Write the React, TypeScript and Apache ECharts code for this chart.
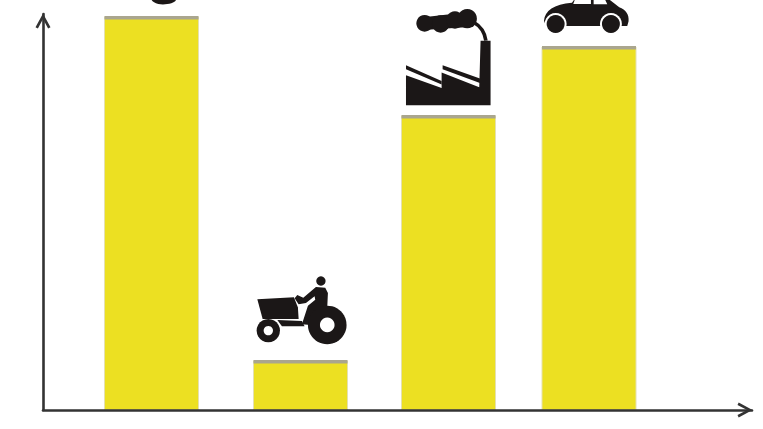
import React, { useEffect, useRef } from "react";
import * as echarts from "echarts";

// Bars are unevenly spaced, so each has a position on a numeric x scale.
const barPositions = [108.5, 257.5, 405.5, 546];
const barValues = [393, 49, 294, 363];
const iconNames = ["blob", "tractor", "factory", "car"];

const INK = "#1b1717";
const YELLOW = "#ece022";
const STRIP = "#aaa68e";
const AXIS = "#333333";
const CHEVRON = "path://M50 0 L100 92 L84 100 L50 36 L16 100 L0 92 Z";

const dot = (cx: number, cy: number, r: number, fill = INK) => ({
  type: "circle",
  shape: { cx, cy, r },
  style: { fill },
});
const shape = (pathData: string, fill = INK) => ({
  type: "path",
  shape: { pathData },
  style: { fill },
});

const icons: Record<string, { dx: number; dy: number; children: any[] }> = {
  blob: {
    dx: -61.5,
    dy: -17,
    children: [shape("M185 0 L258 0 C255 10 225 16 205 12 C195 10 188 5 185 0 Z")],
  },
  tractor: {
    dx: -60.5,
    dy: -96,
    children: [
      shape("M52 103 L162 97 L174 128 L176 162 L68 162 Z"),
      shape("M112 165 L186 168 L194 184 L126 184 Z"),
      shape(
        "M228 66 L256 68 L264 84 L262 128 L236 136 L212 180 L186 178 L204 122 L226 104 L224 94 L198 114 L176 118 L164 100 L172 90 L190 98 Z",
      ),
      dot(243, 48, 14),
      dot(262, 180, 58),
      dot(262, 180, 22, "#ffffff"),
      dot(85, 197, 35),
      dot(85, 197, 14, "#ffffff"),
    ],
  },
  factory: {
    dx: -58.5,
    dy: -116,
    children: [
      shape(
        "M272 122 L302 122 L302 316 L48 316 L48 226 L155 264 L155 218 L268 262 Z",
      ),
      shape("M48 196 L155 243 L155 254 L48 208 Z"),
      shape("M158 196 L270 236 L270 249 L158 208 Z"),
      shape("M100 52 L240 36 L250 80 L100 90 Z"),
      dot(104, 70, 25),
      dot(152, 72, 26),
      dot(195, 60, 26),
      dot(232, 56, 29),
      {
        type: "path",
        shape: { pathData: "M250 66 C268 76 284 92 288 122" },
        style: { fill: "none", stroke: INK, lineWidth: 11 },
      },
    ],
  },
  car: {
    dx: -59,
    dy: -47,
    children: [
      shape(
        "M42 62 C44 32 72 12 126 8 L132 0 L240 0 L268 22 C288 30 298 44 296 64 L292 78 L48 78 Z",
      ),
      shape("M134 0 L183 0 L183 12 L130 12 Z", "#ffffff"),
      shape("M191 0 L226 0 L232 13 L191 13 Z", "#ffffff"),
      dot(77, 72, 33, "#ffffff"),
      dot(243, 72, 33, "#ffffff"),
      dot(77, 72, 27),
      dot(243, 72, 27),
    ],
  },
};

const renderBar = (params: any, api: any) => {
  const index = params.dataIndex;
  const [cx, top] = api.coord([api.value(0), api.value(1)]);
  const [, bottom] = api.coord([api.value(0), 0]);
  const width = api.size([94, 0])[0];
  const left = cx - width / 2;
  const icon = icons[iconNames[index]];
  return {
    type: "group",
    children: [
      {
        type: "rect",
        shape: { x: left, y: top, width, height: bottom - top },
        style: { fill: YELLOW, stroke: "#e4e0b0", lineWidth: 1 },
      },
      {
        type: "rect",
        shape: { x: left, y: top - 1, width, height: 3.5 },
        style: { fill: STRIP },
      },
      {
        type: "group",
        x: cx + icon.dx,
        y: top + icon.dy,
        scaleX: 1 / 3,
        scaleY: 1 / 3,
        children: icon.children,
      },
    ],
  };
};

export default function App() {
  const ref = useRef<HTMLDivElement>(null);

  useEffect(() => {
    const chart = echarts.init(ref.current!, null, { renderer: "svg" });
    const axisCommon = {
      axisTick: { show: false },
      axisLabel: { show: false },
      splitLine: { show: false },
    };
    const axisLine = {
      show: true,
      symbol: ["none", CHEVRON],
      symbolSize: [15, 15],
      symbolOffset: [0, -7],
      lineStyle: { color: AXIS, width: 2.6 },
    };
    chart.setOption({
      animation: false,
      backgroundColor: "#ffffff",
      grid: { left: 43, right: 11, top: 14, bottom: 19 },
      xAxis: { ...axisCommon, type: "value", min: 0, max: 709, z: 5, axisLine },
      yAxis: { ...axisCommon, type: "value", min: 0, max: 396, z: 5, axisLine },
      series: [
        {
          type: "custom",
          renderItem: renderBar,
          clip: false,
          silent: true,
          encode: { x: 0, y: 1 },
          data: barPositions.map((x, i) => [x, barValues[i]]),
        },
      ],
    });
    return () => chart.dispose();
  }, []);

  return (
    <div
      ref={ref}
      style={{ position: "absolute", left: 0, top: 0, width: 763, height: 429 }}
    />
  );
}
